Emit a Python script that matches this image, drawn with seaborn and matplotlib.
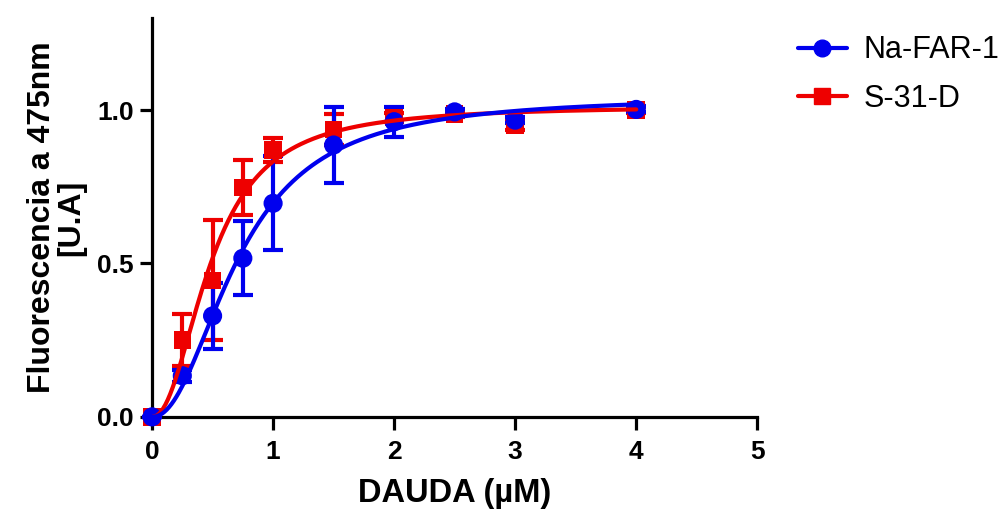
import numpy as np
import pandas as pd
import matplotlib
matplotlib.use("Agg")
import matplotlib.pyplot as plt
import seaborn as sns
from matplotlib.lines import Line2D

# ---- data ----
dauda = [0, 0.25, 0.5, 0.75, 1.0, 1.5, 2.0, 2.5, 3.0, 4.0]
nafar_mean = [0.0, 0.134, 0.329, 0.517, 0.696, 0.886, 0.962, 0.994, 0.967, 1.002]
nafar_err = [0.0, 0.02, 0.107, 0.12, 0.153, 0.125, 0.049, 0.01, 0.01, 0.01]
s31_mean = [0.0, 0.250, 0.445, 0.748, 0.870, 0.937, 0.976, 0.987, 0.950, 1.000]
s31_err = [0.0, 0.085, 0.195, 0.09, 0.04, 0.05, 0.015, 0.01, 0.015, 0.01]
series_names = ["Na-FAR-1", "S-31-D"]
colors = {"Na-FAR-1": "#0000ee", "S-31-D": "#ee0000"}
markers = {"Na-FAR-1": "o", "S-31-D": "s"}
xticks = [0, 1, 2, 3, 4, 5]
yticks = [0.0, 0.5, 1.0]
yticklabels = ["0.0", "0.5", "1.0"]


def hill_fit(x, y):
    x = np.asarray(x, float)
    y = np.asarray(y, float)
    best = None
    for kd in np.linspace(0.1, 2.0, 191):
        for h in np.linspace(0.8, 4.0, 161):
            f = x ** h / (kd ** h + x ** h)
            bmax = (y * f).sum() / (f * f).sum()
            r = ((y - bmax * f) ** 2).sum()
            if best is None or r < best[0]:
                best = (r, bmax, kd, h)
    return best[1:]


sns.set_theme(style="ticks")
plt.rcParams["font.family"] = ["Liberation Sans", "DejaVu Sans"]
plt.rcParams["font.weight"] = "bold"
for k in ["text.color", "axes.labelcolor", "xtick.color", "ytick.color"]:
    plt.rcParams[k] = "black"

fig = plt.figure(figsize=(10.07, 5.14), dpi=100)
ax = fig.add_axes([0.151, 0.189, 0.601, 0.776])

means = {"Na-FAR-1": nafar_mean, "S-31-D": s31_mean}
errs = {"Na-FAR-1": nafar_err, "S-31-D": s31_err}

xs = np.linspace(0.0, 4.0, 400)
curves = []
for name in series_names:
    bmax, kd, h = hill_fit(dauda, means[name])
    yy = bmax * xs ** h / (kd ** h + xs ** h)
    curves.append(pd.DataFrame({"x": xs, "y": yy, "serie": name}))
curve_df = pd.concat(curves, ignore_index=True)

pts = pd.concat([pd.DataFrame({"x": dauda, "y": means[n], "e": errs[n], "serie": n})
                 for n in series_names], ignore_index=True)

# red drawn under blue
for name in ["S-31-D", "Na-FAR-1"]:
    sub = pts[pts.serie == name]
    ax.errorbar(sub.x, sub.y, yerr=sub.e, fmt="none", ecolor=colors[name],
                elinewidth=3, capsize=7, capthick=3, zorder=3, clip_on=False)
    sns.scatterplot(data=sub, x="x", y="y", marker=markers[name], color=colors[name],
                    s=160 if name == "S-31-D" else 190, edgecolor="none", ax=ax,
                    zorder=4, clip_on=False, legend=False)
for name in ["S-31-D", "Na-FAR-1"]:
    sns.lineplot(data=curve_df[curve_df.serie == name], x="x", y="y",
                 color=colors[name], lw=3, ax=ax, zorder=5, legend=False)

ax.set_xlim(0, 5)
ax.set_ylim(0, 1.3)
ax.set_xticks(xticks)
ax.set_xticklabels([str(t) for t in xticks], fontsize=19, fontweight="bold")
ax.set_yticks(yticks)
ax.set_yticklabels(yticklabels, fontsize=19, fontweight="bold")
ax.tick_params(axis="both", direction="out", length=9, width=2.3, colors="black")
ax.tick_params(axis="x", pad=8)
ax.tick_params(axis="y", pad=4)
for s in ["top", "right"]:
    ax.spines[s].set_visible(False)
for s in ["left", "bottom"]:
    ax.spines[s].set_linewidth(2.3)
    ax.spines[s].set_color("black")

ax.set_xlabel("DAUDA (µM)", fontsize=23.5, fontweight="bold", labelpad=10)
ax.set_ylabel("Fluorescencia a 475nm\n[U.A]", fontsize=23, fontweight="bold",
              labelpad=8, linespacing=0.95)

handles = [Line2D([0], [0], color=colors[n], marker=markers[n], lw=3,
                  markersize=12) for n in series_names]
fig.legend(handles, series_names, loc="upper left", bbox_to_anchor=(0.765, 0.985),
           frameon=False, handlelength=1.6, handletextpad=0.55,
           labelspacing=0.6, prop={"size": 22, "weight": "normal"})

fig.savefig("out.png", dpi=100)
